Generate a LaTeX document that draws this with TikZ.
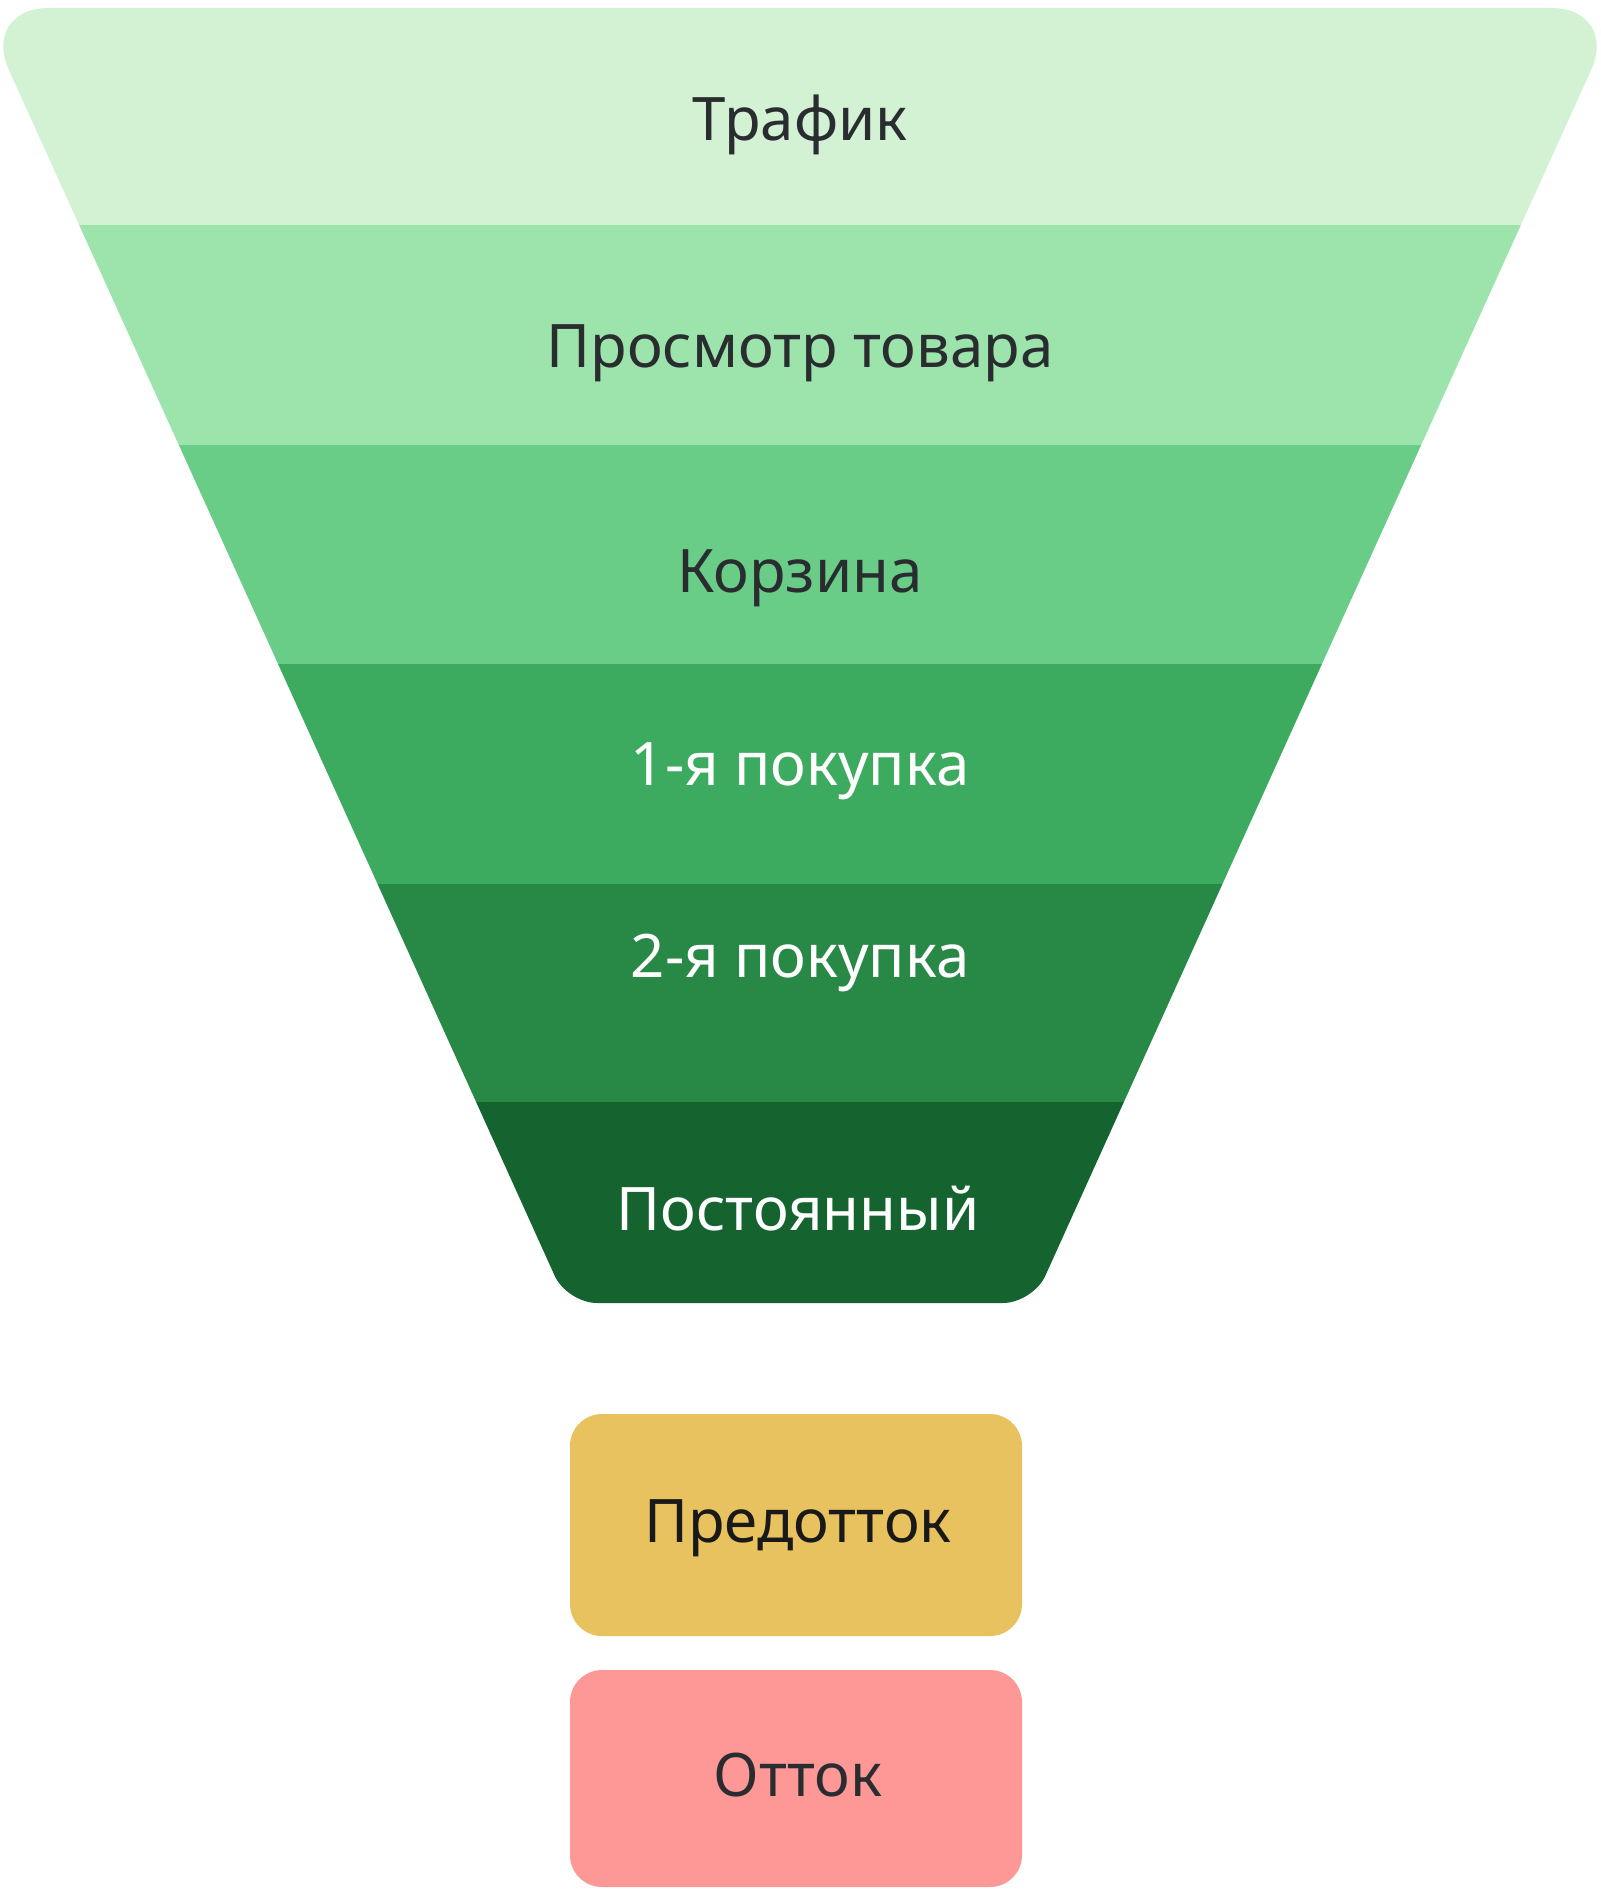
\documentclass[tikz,border=0pt]{standalone}
\usepackage{fontspec}
\setmainfont{Noto Sans}
\definecolor{bandA}{HTML}{D3F1D3}
\definecolor{bandB}{HTML}{9DE3AC}
\definecolor{bandC}{HTML}{69CD88}
\definecolor{bandD}{HTML}{3CAB5F}
\definecolor{bandE}{HTML}{288846}
\definecolor{bandF}{HTML}{156430}
\definecolor{preout}{HTML}{E8C25E}
\definecolor{outflow}{HTML}{FE9896}
\definecolor{darktext}{HTML}{2A2D30}
\begin{document}
\begin{tikzpicture}[x=1pt,y=-1pt,
  lbl/.style={anchor=base,font=\fontsize{60}{72}\selectfont,inner sep=0pt},
  dark/.style={lbl,text=darktext},
  light/.style={lbl,text=white},
  boxstyle/.style={rounded corners=32pt}]
\useasboundingbox (0,0) rectangle (1600,1902);
\begin{scope}
  \clip (800,8) [rounded corners=68pt] -- (1619.2,8) -- (1326,655)
        [rounded corners=30pt] -- (1033,1303) -- (567,1303) -- (274,655)
        [rounded corners=68pt] -- (-19.2,8) -- cycle;
  \fill[bandA] (-30,0) rectangle (1630,225);
  \fill[bandB] (-30,225) rectangle (1630,445);
  \fill[bandC] (-30,445) rectangle (1630,664);
  \fill[bandD] (-30,664) rectangle (1630,884);
  \fill[bandE] (-30,884) rectangle (1630,1102);
  \fill[bandF] (-30,1102) rectangle (1630,1320);
\end{scope}
\node[dark]  (t1) at (800,141) {Трафик};
\node[dark]  (t2) at (800,367) {Просмотр товара};
\node[dark]  (t3) at (800,592) {Корзина};
\node[light] (t4) at (800,785) {1-я покупка};
\node[light] (t5) at (800,977) {2-я покупка};
\node[light] (t6) at (798,1230) {Постоянный};
\fill[preout,boxstyle] (570,1414) rectangle (1022,1636);
\fill[outflow,boxstyle] (570,1670) rectangle (1022,1887);
\node[lbl,text=black!90] (b1) at (798,1542) {Предотток};
\node[dark] (b2) at (798,1796) {Отток};
\end{tikzpicture}
\end{document}
